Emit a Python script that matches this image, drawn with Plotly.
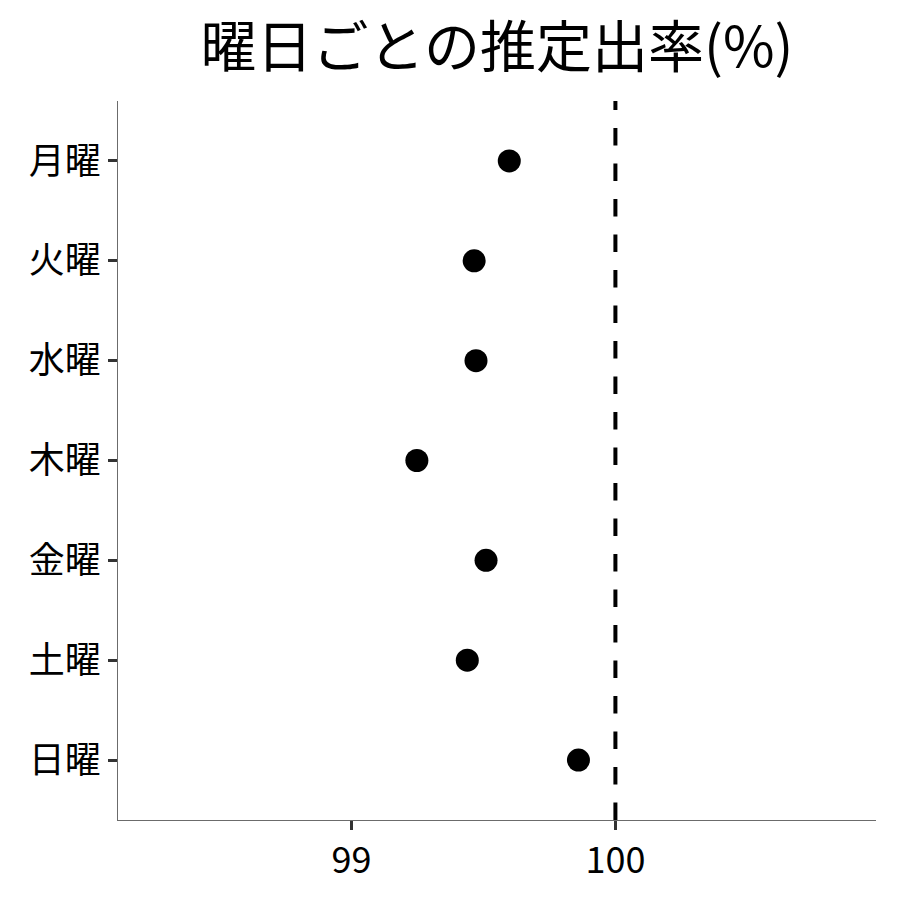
import plotly.graph_objects as go

days = ["月曜", "火曜", "水曜", "木曜", "金曜", "土曜", "日曜"]
rates = [99.598, 99.465, 99.472, 99.248, 99.510, 99.439, 99.860]
ref_value = 100
x_ticks = [99, 100]
title_text = "曜日ごとの推定出率(%)"

FONT = "Noto Sans CJK JP"

fig = go.Figure()
fig.add_trace(go.Scatter(
    x=rates, y=days, mode="markers",
    marker=dict(color="black", size=23),
    showlegend=False,
))
fig.add_shape(type="line", x0=ref_value, x1=ref_value, xref="x",
              y0=0, y1=1, yref="paper",
              line=dict(color="black", width=4, dash="17.5px,18px"))

fig.update_layout(
    width=900, height=900,
    paper_bgcolor="white", plot_bgcolor="white",
    margin=dict(l=110, r=32, t=93, b=88),
    font=dict(family=FONT, color="black"),
    title=dict(text=title_text, x=0.5, xref="paper", xanchor="center", y=0.956, yanchor="middle",
               font=dict(size=56, family=FONT, color="black")),
    xaxis=dict(range=[98.116, 100.987], tickvals=x_ticks, ticktext=[str(v) for v in x_ticks],
               showgrid=False, zeroline=False, showline=True, linecolor="#6b6b6b", linewidth=1.2,
               ticks="outside", ticklen=9, tickwidth=3, tickcolor="#333333",
               tickfont=dict(size=36, family=FONT, color="black")),
    yaxis=dict(type="category", categoryorder="array", categoryarray=days,
               range=[6.6, -0.6],
               showgrid=False, zeroline=False, showline=True, linecolor="#6b6b6b", linewidth=1.2,
               ticks="outside", ticklen=9, tickwidth=3, tickcolor="#333333",
               tickfont=dict(size=36, family=FONT, color="black")),
)

fig.write_html("out.html")
